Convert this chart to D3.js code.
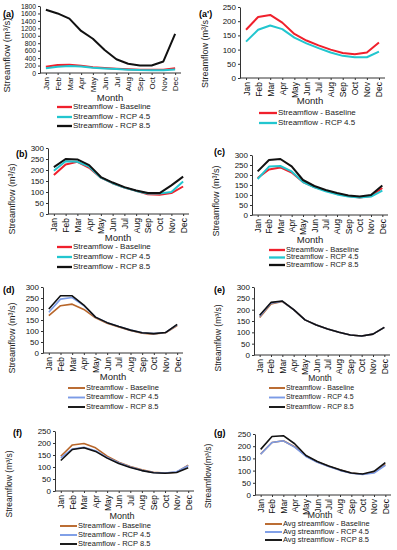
<!DOCTYPE html>
<html>
<head>
<meta charset="utf-8">
<script src="https://cdn.jsdelivr.net/npm/d3@7"></script>
<style>
  body { margin: 0; background: #fff; }
  svg { display: block; font-family: "Liberation Sans", Arial, sans-serif; }
</style>
</head>
<body>
<div id="chart"></div>
<script>
// months on the x axis
var months = ["Jan", "Feb", "Mar", "Apr", "May", "Jun", "Jul", "Aug", "Sep", "Oct", "Nov", "Dec"];

// y tick labels
var ticks1800 = [0, 200, 400, 600, 800, 1000, 1200, 1400, 1600, 1800];
var ticks300 = [0, 50, 100, 150, 200, 250, 300];
var ticks250 = [0, 50, 100, 150, 200, 250];

// (a) / (a')
var aBase = [170, 215, 222, 195, 155, 132, 115, 100, 88, 84, 90, 125];
var a45 = [128, 170, 185, 172, 142, 122, 105, 90, 78, 73, 73, 93];
var a85 = [1700, 1600, 1460, 1130, 920, 620, 370, 250, 200, 200, 310, 1050];

// (b)
var bBase = [177, 225, 237, 210, 165, 140, 120, 105, 90, 88, 95, 125];
var b45 = [197, 240, 237, 215, 165, 140, 120, 105, 93, 93, 100, 148];
var b85 = [213, 250, 248, 222, 168, 143, 122, 107, 95, 95, 130, 170];

// (c)
var cBase = [185, 228, 238, 212, 165, 140, 122, 106, 95, 88, 95, 135];
var c45 = [180, 242, 245, 218, 165, 138, 118, 103, 92, 88, 92, 122];
var c85 = [218, 275, 280, 243, 175, 145, 125, 110, 98, 93, 100, 148];

// (d)
var dBase = [170, 215, 222, 198, 160, 135, 118, 102, 90, 86, 92, 125];
var d45 = [185, 245, 252, 215, 163, 138, 120, 104, 92, 88, 93, 128];
var d85 = [200, 260, 260, 218, 163, 138, 120, 104, 92, 88, 93, 130];

// (e)
var eBase = [165, 225, 236, 200, 155, 132, 115, 100, 88, 84, 92, 122];
var e45 = [170, 229, 237, 200, 155, 132, 115, 100, 88, 84, 92, 122];
var e85 = [175, 232, 238, 200, 155, 132, 115, 100, 88, 84, 92, 122];

// (f)
var fBase = [145, 192, 198, 180, 145, 120, 102, 88, 78, 75, 78, 108];
var f45 = [138, 175, 182, 168, 140, 118, 100, 86, 77, 75, 80, 105];
var f85 = [127, 173, 180, 165, 137, 115, 98, 85, 76, 74, 77, 97];

// (g)
var gBase = [168, 215, 222, 198, 160, 135, 118, 102, 90, 85, 93, 125];
var g45 = [167, 215, 222, 196, 158, 134, 117, 101, 89, 84, 90, 122];
var g85 = [187, 240, 243, 210, 162, 137, 119, 103, 90, 86, 97, 133];

var RED = "#f0202c", CYAN = "#22c6cf", BLACK = "#111", BROWN = "#b8662a", BLUE = "#7b9be6";

var svg = d3.select("#chart").append("svg")
    .attr("width", 397)
    .attr("height", 550);

function panel(p) {
    var g = svg.append("g");

    var x = d3.scalePoint().domain(months).range([p.x0, p.x1]).padding(0.5);
    var y = d3.scaleLinear().domain([0, d3.max(p.yTicks)]).range([p.yb, p.yt]);

    // y axis
    var ya = g.append("g")
        .attr("transform", "translate(" + p.x0 + ",0)")
        .call(d3.axisLeft(y).tickValues(p.yTicks).tickFormat(d3.format("d"))
            .tickSize(2).tickSizeOuter(0).tickPadding(2));
    ya.selectAll("text").style("font-size", (p.yTickFs || p.tickFs) + "px").attr("fill", "#111");
    ya.selectAll("line, path").attr("stroke", "#333");

    // x axis
    var xa = g.append("g")
        .attr("transform", "translate(0," + p.yb + ")")
        .call(d3.axisBottom(x).tickSize(2).tickSizeOuter(0).tickPadding(3));
    xa.select("path.domain").attr("d", "M" + p.x0 + ",0H" + p.x1);
    xa.selectAll("line, path").attr("stroke", "#333");
    xa.selectAll("text")
        .style("font-size", (p.tickFs + 0.5) + "px")
        .attr("fill", "#111")
        .attr("text-anchor", "end")
        .attr("dy", "0.35em")
        .attr("transform", "translate(0,4) rotate(-90)")
        .attr("x", 0).attr("y", 0);

    var line = d3.line()
        .x(function (d, i) { return x(months[i]); })
        .y(function (d) { return y(d); });

    p.series.forEach(function (s) {
        g.append("path")
            .datum(s.values)
            .attr("d", line)
            .attr("fill", "none")
            .attr("stroke", s.color)
            .attr("stroke-width", p.lw)
            .attr("stroke-linejoin", "round");
    });

    // panel label
    g.append("text")
        .attr("x", p.label[0]).attr("y", p.label[1])
        .attr("dominant-baseline", "middle")
        .style("font-size", "9px").style("font-weight", "bold")
        .text(p.name);

    // y title
    g.append("text")
        .attr("transform", "translate(" + p.yTitle[0] + "," + p.yTitle[1] + ") rotate(-90)")
        .attr("text-anchor", "middle")
        .attr("dominant-baseline", "middle")
        .style("font-size", (p.yTitleFs || 9) + "px")
        .attr("fill", "#222")
        .text(p.yTitleText);

    // x title
    g.append("text")
        .attr("x", p.xTitle[0]).attr("y", p.xTitle[1])
        .attr("text-anchor", "middle")
        .attr("dominant-baseline", "middle")
        .style("font-size", p.titleFs + "px")
        .attr("fill", "#222")
        .text("Month");

    // legend
    p.series.forEach(function (s, i) {
        var ly = p.leg.rows[i];
        g.append("line")
            .attr("x1", p.leg.x1).attr("x2", p.leg.x2)
            .attr("y1", ly).attr("y2", ly)
            .attr("stroke", s.color)
            .attr("stroke-width", p.lw + 0.3);
        g.append("text")
            .attr("x", p.leg.x2 + 1).attr("y", ly)
            .attr("dominant-baseline", "middle")
            .style("font-size", p.legFs + "px")
            .attr("fill", "#222")
            .text(s.name);
    });
}

var sb = "Streamflow - Baseline", s45 = "Streamflow - RCP 4.5", s85 = "Streamflow - RCP 8.5";
var yt = "Streamflow (m\u00b3/s)";

panel({
    name: "(a)", label: [3, 15], x0: 40, x1: 181, yt: 6, yb: 73, yTicks: ticks1800,
    yTitle: [7, 55], yTitleText: yt, yTitleFs: 9.5, xTitle: [110, 98], tickFs: 7.5, yTickFs: 6.8, titleFs: 9.5, legFs: 8, lw: 2,
    leg: { x1: 57, x2: 72, rows: [107, 117, 126] },
    series: [{ name: sb, color: RED, values: aBase }, { name: s45, color: CYAN, values: a45 }, { name: s85, color: BLACK, values: a85 }]
});

panel({
    name: "(a')", label: [199, 15], x0: 240, x1: 385, yt: 7, yb: 78, yTicks: ticks250,
    yTitle: [206, 54], yTitleText: "Streamflow (m\u00b3/s", xTitle: [310, 101], tickFs: 8, titleFs: 9.5, legFs: 8, lw: 2,
    leg: { x1: 259, x2: 277, rows: [113, 123] },
    series: [{ name: sb, color: RED, values: aBase }, { name: s45, color: CYAN, values: a45 }]
});

panel({
    name: "(b)", label: [16, 155], x0: 48, x1: 189, yt: 148, yb: 214, yTicks: ticks300,
    yTitle: [13, 199], yTitleText: yt, xTitle: [118, 238], tickFs: 8, titleFs: 9.5, legFs: 8, lw: 2,
    leg: { x1: 57, x2: 72, rows: [247, 257, 267] },
    series: [{ name: sb, color: RED, values: bBase }, { name: s45, color: CYAN, values: b45 }, { name: s85, color: BLACK, values: b85 }]
});

panel({
    name: "(c)", label: [214, 153], x0: 252, x1: 388, yt: 155, yb: 215, yTicks: ticks300,
    yTitle: [217, 201], yTitleText: yt, xTitle: [310, 240], tickFs: 8, titleFs: 9.5, legFs: 7.5, lw: 2,
    leg: { x1: 269, x2: 285, rows: [250, 257.5, 265] },
    series: [{ name: sb, color: RED, values: cBase }, { name: s45, color: CYAN, values: c45 }, { name: s85, color: BLACK, values: c85 }]
});

panel({
    name: "(d)", label: [3, 291], x0: 43, x1: 183, yt: 287, yb: 353, yTicks: ticks300,
    yTitle: [13, 338], yTitleText: yt, xTitle: [113, 377], tickFs: 8, titleFs: 9.5, legFs: 7.5, lw: 1.6,
    leg: { x1: 68, x2: 85, rows: [388, 397.5, 407] },
    series: [{ name: sb, color: BROWN, values: dBase }, { name: s45, color: BLUE, values: d45 }, { name: s85, color: BLACK, values: d85 }]
});

panel({
    name: "(e)", label: [214, 291], x0: 254, x1: 390, yt: 287, yb: 355, yTicks: ticks300,
    yTitle: [219, 338], yTitleText: yt, yTitleFs: 8.5, xTitle: [320, 379], tickFs: 8, titleFs: 8.5, legFs: 7, lw: 1.6,
    leg: { x1: 269, x2: 285, rows: [388, 397.5, 407] },
    series: [{ name: sb, color: BROWN, values: eBase }, { name: s45, color: BLUE, values: e45 }, { name: s85, color: BLACK, values: e85 }]
});

panel({
    name: "(f)", label: [13, 434], x0: 55, x1: 194, yt: 431, yb: 491, yTicks: ticks250,
    yTitle: [10, 484], yTitleText: yt, yTitleFs: 8.5, xTitle: [122, 517], tickFs: 8, titleFs: 9, legFs: 7.5, lw: 1.6,
    leg: { x1: 60, x2: 77, rows: [526, 535, 544] },
    series: [{ name: sb, color: BROWN, values: fBase }, { name: s45, color: BLUE, values: f45 }, { name: s85, color: BLACK, values: f85 }]
});

panel({
    name: "(g)", label: [214, 434], x0: 255, x1: 391, yt: 434, yb: 495, yTicks: ticks250,
    yTitle: [209, 476], yTitleText: "Streamflow(m\u00b3/s)", yTitleFs: 8.5, xTitle: [320, 516], tickFs: 8, titleFs: 9, legFs: 7.5, lw: 1.6,
    leg: { x1: 265, x2: 282, rows: [524, 532, 540] },
    series: [{ name: "Avg streamflow - Baseline", color: BROWN, values: gBase }, { name: "Avg streamflow - RCP 4.5", color: BLUE, values: g45 }, { name: "Avg streamflow - RCP 8.5", color: BLACK, values: g85 }]
});
</script>
</body>
</html>
